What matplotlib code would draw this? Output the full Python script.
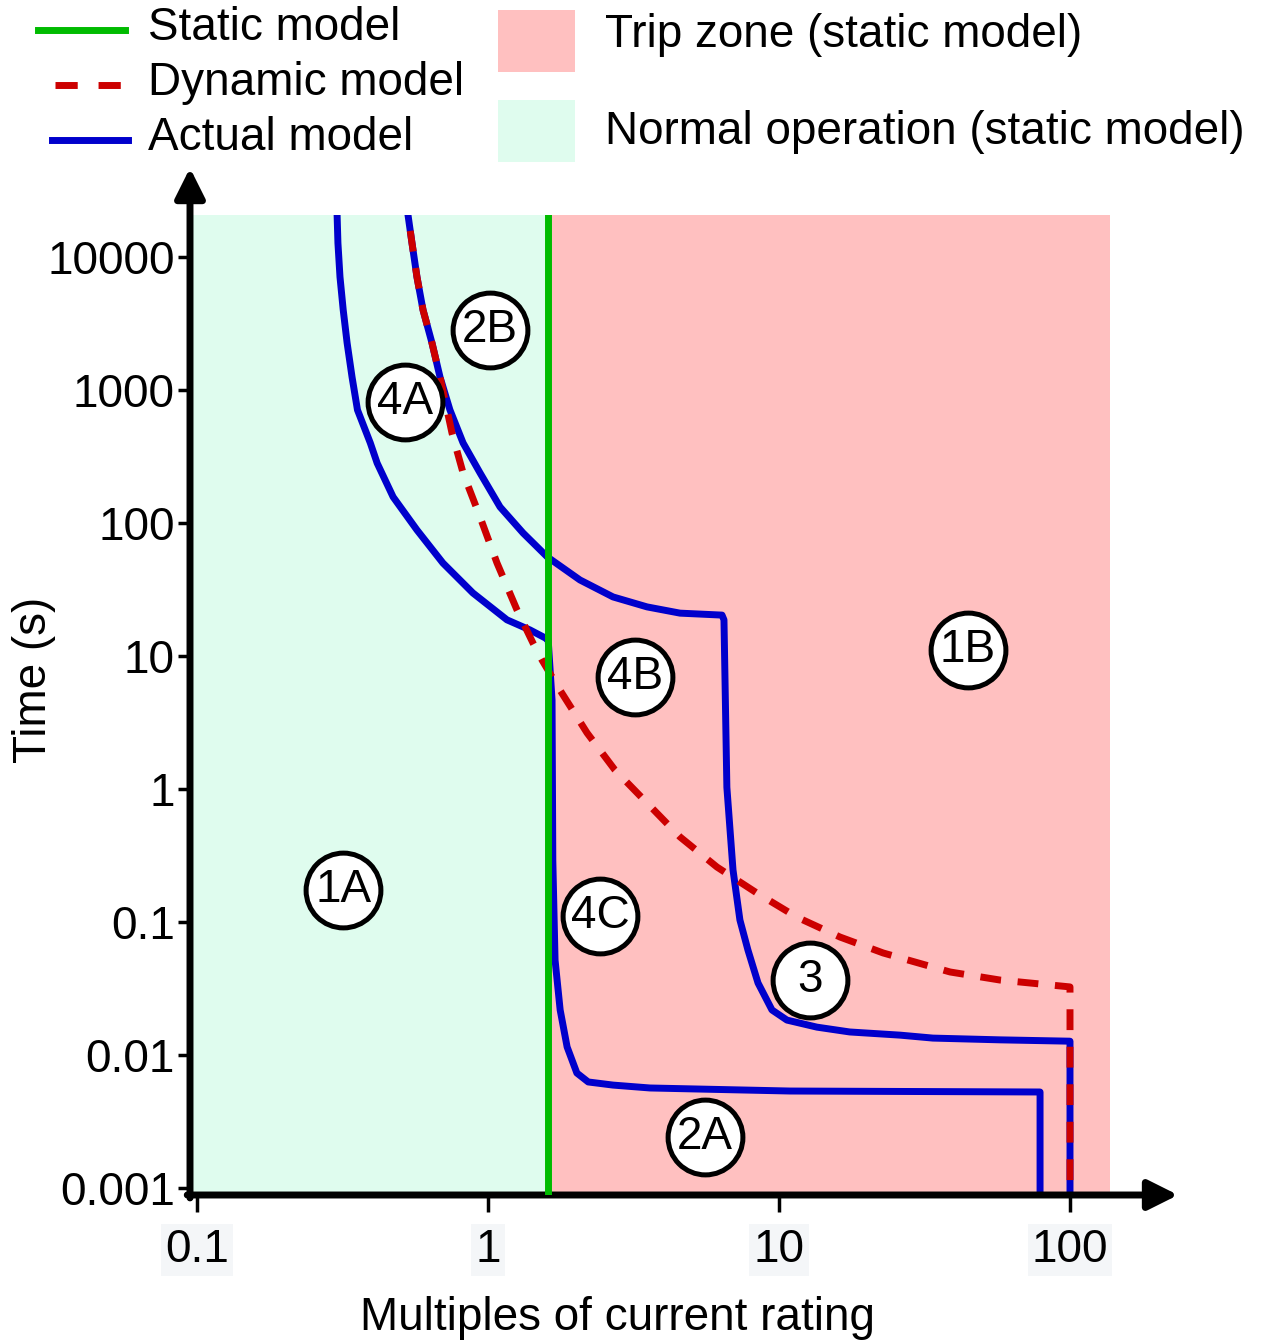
import numpy as np
import matplotlib
matplotlib.use("Agg")
import matplotlib.pyplot as plt
from matplotlib.lines import Line2D
from matplotlib.patches import Rectangle

plt.rcParams['font.family'] = ['Liberation Sans', 'DejaVu Sans']

# static model threshold (multiples of rating)
static_x = 1.61

# actual model, lower branch (4A -> 4C -> 2A)
act_low_x = [0.303, 0.303, 0.305, 0.310, 0.318, 0.328, 0.341, 0.356, 0.394, 0.416, 0.472, 0.570, 0.700,
             0.887, 1.162, 1.394, 1.570, 1.61, 1.66, 1.67, 1.70, 1.77, 1.87, 2.02, 2.21, 2.69, 3.60,
             10.9, 78.9, 78.9]
act_low_t = [30000, 20700, 12740, 7080, 4000, 2256, 1253, 708, 400, 282, 157, 88.6, 50.0,
             29.8, 18.7, 15.7, 13.7, 13.2, 4.67, 0.292, 0.0518, 0.0218, 0.0115, 0.00732, 0.00627,
             0.00594, 0.00565, 0.00536, 0.00527, 0.0008]

# actual model, upper branch (2B -> 3)
act_up_x = [0.531, 0.531, 0.548, 0.570, 0.598, 0.642, 0.684, 0.740, 0.821, 0.939, 1.10, 1.32,
            1.60, 2.07, 2.69, 3.52, 4.57, 6.37, 6.47, 6.62, 6.95, 7.34, 7.82, 8.47, 9.46, 10.65,
            13.5, 17.5, 26.1, 33.8, 57.5, 100, 100]
act_up_t = [30000, 20700, 12740, 7080, 4000, 2256, 1253, 708, 400, 238, 132, 84.1,
            55.5, 37.3, 27.8, 23.4, 21.0, 20.3, 18.7, 1.03, 0.246, 0.1035, 0.0616, 0.0348, 0.0218,
            0.0183, 0.0162, 0.0149, 0.0141, 0.0134, 0.0130, 0.0127, 0.0008]

# dynamic model
dyn_x = [0.531, 0.531, 0.548, 0.570, 0.598, 0.642, 0.684, 0.752, 0.821, 0.939, 1.074, 1.258, 1.428,
         1.533, 1.74, 2.19, 2.73, 3.52, 4.57, 6.12, 8.40, 11.5, 16.2, 22.8, 38.7, 57.5, 100, 100]
dyn_t = [30000, 20700, 12740, 7080, 4000, 2256, 1253, 475, 238, 111, 50.0, 22.2, 12.5,
         9.33, 5.85, 2.64, 1.39, 0.785, 0.436, 0.259, 0.165, 0.109, 0.0771, 0.0585, 0.0421,
         0.0366, 0.0325, 0.0008]

# region labels
lab_text = ['2B', '4A', '4B', '1B', '1A', '4C', '3', '2A']
lab_x = [1.016, 0.519, 3.20, 44.6, 0.318, 2.43, 12.8, 5.57]
lab_t = [2826, 813, 6.95, 11.1, 0.174, 0.111, 0.0366, 0.00242]

yticks = [0.001, 0.01, 0.1, 1, 10, 100, 1000, 10000]
ytick_labels = ['0.001', '0.01', '0.1', '1', '10', '100', '1000', '10000']
xticks = [0.1, 1, 10, 100]
xtick_labels = ['0.1', '1', '10', '100']

blue = '#0000cc'
red = '#cc0000'
green = '#00bb00'
pink = '#ffc0c0'
mint = '#dffcee'
fs = 33

fig = plt.figure(figsize=(12.63, 13.44), dpi=100)
ax = fig.add_axes([190/1263, 1 - 1195/1344, 920/1263, 980/1344])
ax.set_xscale('log')
ax.set_yscale('log')
xmin, xmax = 10**((190-488)/291), 10**((1110-488)/291)
ymin, ymax = 10**((789-1195)/133), 10**((789-215)/133)
ax.set_xlim(xmin, xmax)
ax.set_ylim(ymin, ymax)

ax.axvspan(xmin, static_x, color=mint, lw=0, zorder=0)
ax.axvspan(static_x, xmax, color=pink, lw=0, zorder=0)

ax.plot(act_low_x, act_low_t, color=blue, lw=5, zorder=3, solid_joinstyle='round')
ax.plot(act_up_x, act_up_t, color=blue, lw=5, zorder=3, solid_joinstyle='round')
ax.plot(dyn_x, dyn_t, color=red, lw=5, dashes=(3, 2.4), zorder=4, dash_joinstyle='round')
ax.axvline(static_x, color=green, lw=5, zorder=5)

ax.scatter(lab_x, lab_t, s=2900, facecolor='white', edgecolor='black', linewidth=3.6, zorder=6)
for t, x, y in zip(lab_text, lab_x, lab_t):
    ax.text(x, y, t, fontsize=fs, ha='center', va='center', zorder=7)

for s in ['top', 'right', 'left', 'bottom']:
    ax.spines[s].set_visible(False)
ax.annotate('', xy=(1.074, 0), xytext=(-0.003, 0), xycoords='axes fraction',
            arrowprops=dict(arrowstyle='-|>', lw=5, color='black', mutation_scale=45,
                            shrinkA=0, shrinkB=0), annotation_clip=False)
ax.annotate('', xy=(0, 1.048), xytext=(0, -0.003), xycoords='axes fraction',
            arrowprops=dict(arrowstyle='-|>', lw=5, color='black', mutation_scale=45,
                            shrinkA=0, shrinkB=0), annotation_clip=False)

ax.set_yticks(yticks)
ax.set_yticklabels(ytick_labels, fontsize=fs)
ax.set_xticks(xticks)
ax.set_xticklabels(xtick_labels, fontsize=fs)
ax.minorticks_off()
ax.tick_params(axis='y', length=9, width=2.5, pad=2)
ax.tick_params(axis='x', length=12, width=2.5, pad=12)
for lab in ax.get_xticklabels():
    lab.set_bbox(dict(facecolor='#f4f6f8', edgecolor='none', pad=3))

ax.set_xlabel('Multiples of current rating', fontsize=fs)
ax.xaxis.set_label_coords((617-190)/920, (1195-1296)/980)
ax.set_ylabel('Time (s)', fontsize=fs)
ax.yaxis.set_label_coords((56-190)/920, (1195-680)/980)

# legend drawn in figure pixels
def fx(px):
    return px / 1263

def fy(py):
    return 1 - py / 1344

fig.add_artist(Line2D([fx(38), fx(125)], [fy(30), fy(30)], color=green, lw=5))
fig.add_artist(Line2D([fx(55), fx(127)], [fy(85), fy(85)], color=red, lw=5, dashes=(3.2, 3)))
fig.add_artist(Line2D([fx(52), fx(128)], [fy(140), fy(140)], color=blue, lw=5))
fig.text(fx(148), fy(28), 'Static model', fontsize=fs, va='center')
fig.text(fx(148), fy(83), 'Dynamic model', fontsize=fs, va='center')
fig.text(fx(148), fy(138), 'Actual model', fontsize=fs, va='center')
fig.add_artist(Rectangle((fx(498), fy(72)), fx(77), 62/1344, color=pink, lw=0))
fig.add_artist(Rectangle((fx(498), fy(162)), fx(77), 62/1344, color=mint, lw=0))
fig.text(fx(605), fy(35), 'Trip zone (static model)', fontsize=fs, va='center')
fig.text(fx(605), fy(132), 'Normal operation (static model)', fontsize=fs, va='center')

fig.savefig('out.png', dpi=100)
